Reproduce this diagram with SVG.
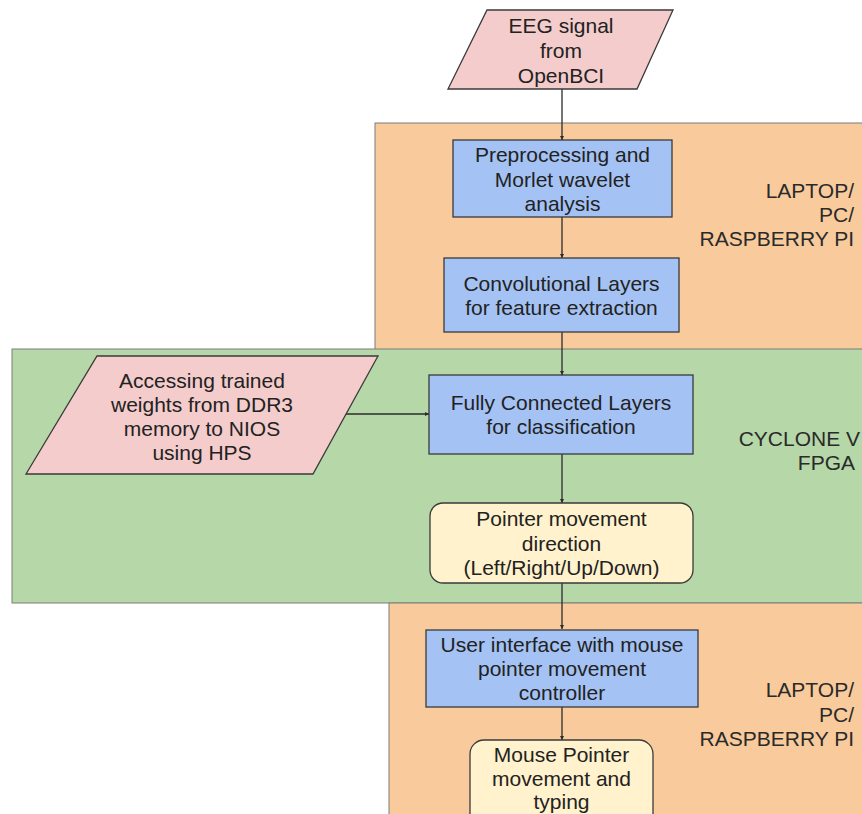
<svg xmlns="http://www.w3.org/2000/svg" width="862" height="814" viewBox="0 0 862 814">
<style>
text{font-family:"Liberation Sans",Arial,sans-serif;font-size:21px;fill:#222;text-anchor:middle}
.lbl{text-anchor:end;fill:#2a2a2a}
.region{stroke:#7d7d7d;stroke-width:1}
.box{stroke:#3a3a3a;stroke-width:1.3}
.blue{fill:#a4c2f4}
.pink{fill:#f4cccc}
.cream{fill:#fff2cc}
.conn line{stroke:#2b2b2b;stroke-width:1.3;marker-end:url(#ah)}
</style>
<defs>
<marker id="ah" viewBox="0 0 6 6" refX="6" refY="3" markerWidth="4" markerHeight="4" orient="auto" markerUnits="userSpaceOnUse">
<path d="M0,0 L6,3 L0,6 z" fill="#2b2b2b"/>
</marker>
</defs>
<rect width="862" height="814" fill="#ffffff"/>
<g id="region-laptop-top">
<rect class="region" x="375" y="123" width="500" height="240" fill="#f9cb9c"/>
<text class="lbl" x="854" y="198">LAPTOP/</text>
<text class="lbl" x="854" y="222">PC/</text>
<text class="lbl" x="854" y="246">RASPBERRY PI</text>
</g>
<g id="region-fpga">
<rect class="region" x="12" y="349" width="870" height="254" fill="#b6d7a8"/>
<text class="lbl" x="860" y="446">CYCLONE V</text>
<text class="lbl" x="855" y="470">FPGA</text>
</g>
<g id="region-laptop-bottom">
<rect class="region" x="389" y="603" width="490" height="230" fill="#f9cb9c"/>
<text class="lbl" x="854" y="697">LAPTOP/</text>
<text class="lbl" x="854" y="722">PC/</text>
<text class="lbl" x="854" y="746">RASPBERRY PI</text>
</g>
<g class="conn" id="connectors">
<line x1="562" y1="89" x2="562" y2="140"/>
<line x1="562" y1="217" x2="562" y2="258"/>
<line x1="562" y1="332" x2="562" y2="375"/>
<line x1="345" y1="414" x2="429" y2="414"/>
<line x1="562" y1="454" x2="562" y2="503"/>
<line x1="562" y1="583" x2="562" y2="629"/>
<line x1="562" y1="707" x2="562" y2="740"/>
</g>
<g id="eeg">
<polygon class="box pink" points="487,10 673,10 637,89 448,89"/>
<text x="561" y="33">EEG signal</text>
<text x="561" y="58">from</text>
<text x="561" y="83">OpenBCI</text>
</g>
<g id="preprocess">
<rect class="box blue" x="453" y="140" width="219" height="77"/>
<text x="562.5" y="162">Preprocessing and</text>
<text x="562.5" y="186.5">Morlet wavelet</text>
<text x="562.5" y="211">analysis</text>
</g>
<g id="conv">
<rect class="box blue" x="444" y="258" width="235" height="74"/>
<text x="561.5" y="291">Convolutional Layers</text>
<text x="561.5" y="315">for feature extraction</text>
</g>
<g id="weights">
<polygon class="box pink" points="97,356 378,356 313,474 26,474"/>
<text x="202" y="388">Accessing trained</text>
<text x="202" y="412">weights from DDR3</text>
<text x="202" y="436">memory to NIOS</text>
<text x="202" y="460">using HPS</text>
</g>
<g id="fc">
<rect class="box blue" x="429" y="375" width="264" height="79"/>
<text x="561" y="410">Fully Connected Layers</text>
<text x="561" y="434">for classification</text>
</g>
<g id="direction">
<rect class="box cream" x="430" y="503" width="263" height="80" rx="13" ry="13"/>
<text x="561.5" y="526">Pointer movement</text>
<text x="561.5" y="550.5">direction</text>
<text x="561.5" y="575">(Left/Right/Up/Down)</text>
</g>
<g id="ui">
<rect class="box blue" x="426" y="630" width="272" height="77"/>
<text x="562" y="652">User interface with mouse</text>
<text x="562" y="676">pointer movement</text>
<text x="562" y="700">controller</text>
</g>
<g id="mouse">
<rect class="box cream" x="470" y="740" width="183" height="100" rx="14" ry="14"/>
<text x="561.5" y="762">Mouse Pointer</text>
<text x="561.5" y="786">movement and</text>
<text x="561.5" y="809">typing</text>
</g>
</svg>
